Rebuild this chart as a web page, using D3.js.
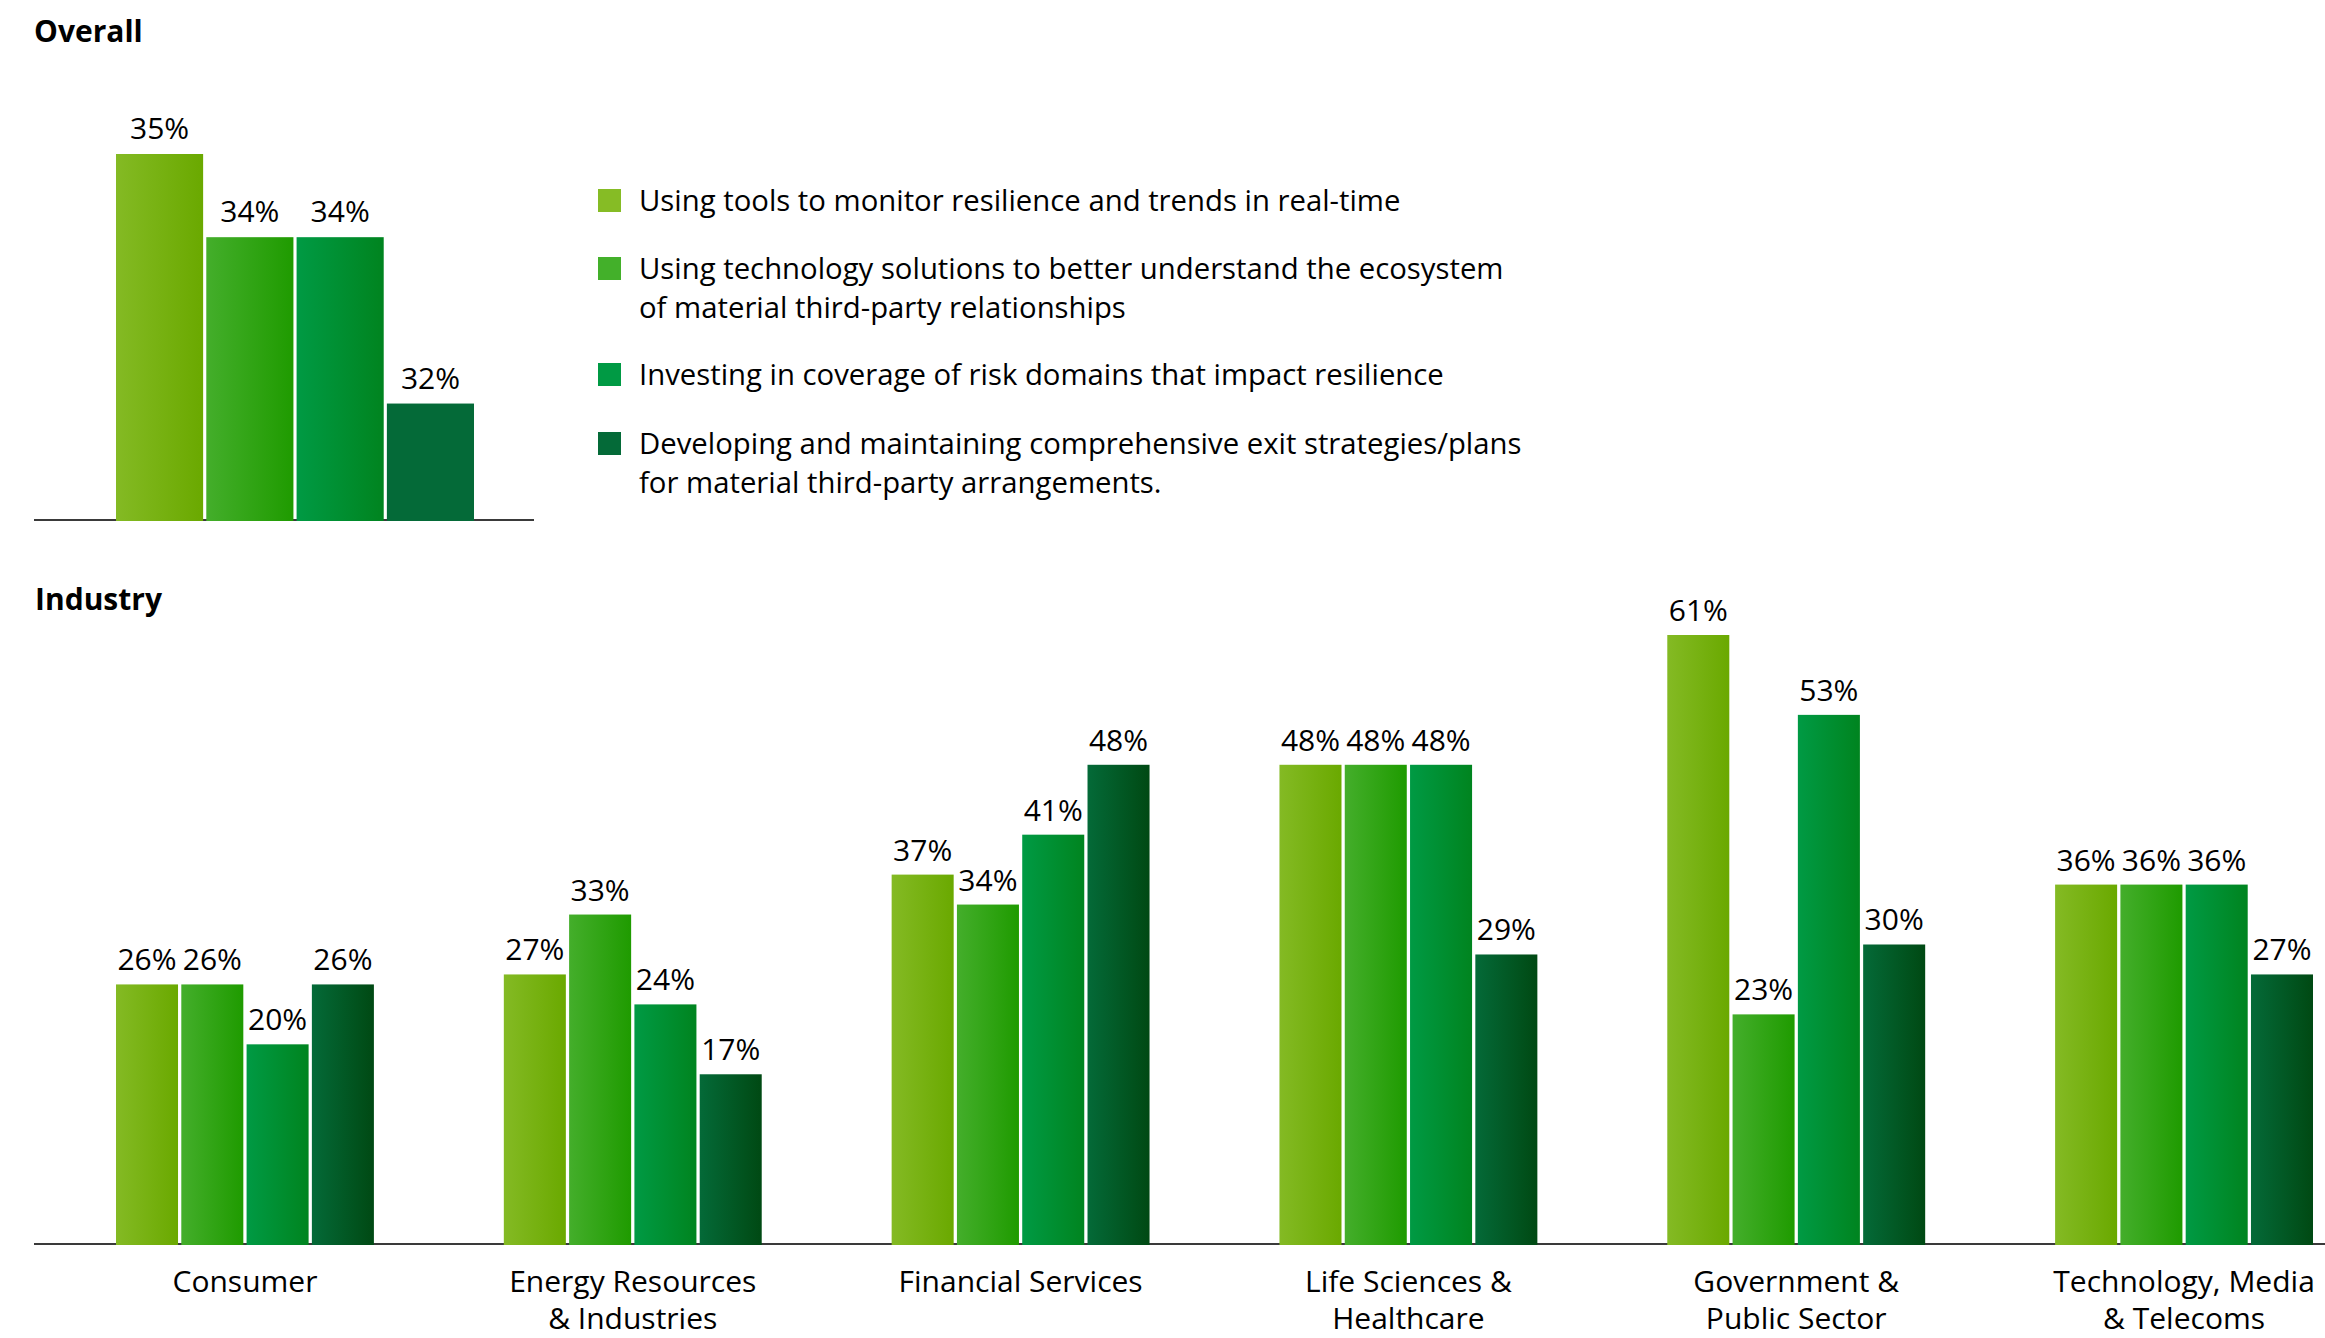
<!DOCTYPE html>
<html>
<head>
<meta charset="utf-8">
<script src="https://cdn.jsdelivr.net/npm/d3@7"></script>
<style>
  html, body { margin: 0; padding: 0; background: #fff; }
  svg { display: block; font-family: "Open Sans", "Noto Sans", sans-serif; }
</style>
</head>
<body>
<svg id="chart" width="2325" height="1338"></svg>
<script>
// ---------- DATA ----------
const seriesNames = [
  "Using tools to monitor resilience and trends in real-time",
  "Using technology solutions to better understand the ecosystem of material third-party relationships",
  "Investing in coverage of risk domains that impact resilience",
  "Developing and maintaining comprehensive exit strategies/plans for material third-party arrangements."
];
const legendLines = [
  ["Using tools to monitor resilience and trends in real-time"],
  ["Using technology solutions to better understand the ecosystem", "of material third-party relationships"],
  ["Investing in coverage of risk domains that impact resilience"],
  ["Developing and maintaining comprehensive exit strategies/plans", "for material third-party arrangements."]
];
const overallValues = [35, 34, 34, 32];

const industries = [
  "Consumer",
  "Energy Resources & Industries",
  "Financial Services",
  "Life Sciences & Healthcare",
  "Government & Public Sector",
  "Technology, Media & Telecoms"
];
const industryTickLines = [
  ["Consumer"],
  ["Energy Resources", "& Industries"],
  ["Financial Services"],
  ["Life Sciences &", "Healthcare"],
  ["Government &", "Public Sector"],
  ["Technology, Media", "& Telecoms"]
];
const monitorTools      = [26, 27, 37, 48, 61, 36];
const techSolutions     = [26, 33, 34, 48, 23, 36];
const riskDomains       = [20, 24, 41, 48, 53, 36];
const exitStrategies    = [26, 17, 48, 29, 30, 27];
const industrySeries = [monitorTools, techSolutions, riskDomains, exitStrategies];

// ---------- SETUP ----------
const svg = d3.select("#chart");
const gradStops = [
  ["#84BA24", "#6AA900"],
  ["#44AE2B", "#1F9B00"],
  ["#009A44", "#00841F"],
  ["#046A38", "#004913"]
];
const solidColors = ["#86BC25", "#43B02A", "#009A44", "#046A38"];

const defs = svg.append("defs");
gradStops.forEach((c, i) => {
  const g = defs.append("linearGradient").attr("id", "grad" + i)
    .attr("x1", "0").attr("x2", "1").attr("y1", "0").attr("y2", "0");
  g.append("stop").attr("offset", "0%").attr("stop-color", c[0]);
  g.append("stop").attr("offset", "100%").attr("stop-color", c[1]);
});
const overallFill = i => i === 3 ? solidColors[3] : "url(#grad" + i + ")";
const industryFill = i => "url(#grad" + i + ")";

const FS = 30;
const LFS = 29.3;

// ---------- OVERALL ----------
svg.append("text").attr("x", 34).attr("y", 42)
  .attr("font-size", FS).attr("font-weight", 700).attr("fill", "#000")
  .text("Overall");

const overallBase = 520;
const xo = d3.scaleBand().domain(d3.range(overallValues.length))
  .range([116, 474]).paddingInner(0.035).paddingOuter(0);
const yo = d3.scaleLinear().domain([30.6, 35]).range([overallBase, 154]);

svg.append("line").attr("x1", 34).attr("x2", 534)
  .attr("y1", overallBase).attr("y2", overallBase)
  .attr("stroke", "#3a3a3a").attr("stroke-width", 2);

const og = svg.append("g");
og.selectAll("rect").data(overallValues).join("rect")
  .attr("x", (d, i) => xo(i))
  .attr("y", d => yo(d))
  .attr("width", xo.bandwidth())
  .attr("height", d => overallBase + 1 - yo(d))
  .attr("fill", (d, i) => overallFill(i));
og.selectAll("text").data(overallValues).join("text")
  .attr("x", (d, i) => xo(i) + xo.bandwidth() / 2)
  .attr("y", d => yo(d) - 15)
  .attr("text-anchor", "middle").attr("font-size", FS).attr("fill", "#000")
  .text(d => d + "%");

// ---------- LEGEND ----------
const legendBaselines = [211, 279, 385, 454];
const lg = svg.append("g");
legendLines.forEach((lines, i) => {
  const y0 = legendBaselines[i];
  lg.append("rect").attr("x", 598).attr("y", y0 - 22)
    .attr("width", 23).attr("height", 23).attr("fill", solidColors[i]);
  const t = lg.append("text").attr("x", 639).attr("y", y0)
    .attr("font-size", LFS).attr("fill", "#000");
  lines.forEach((ln, j) => {
    t.append("tspan").attr("x", 639).attr("dy", j === 0 ? 0 : 39).text(ln);
  });
});

// ---------- INDUSTRY ----------
svg.append("text").attr("x", 35).attr("y", 610)
  .attr("font-size", FS).attr("font-weight", 700).attr("fill", "#000")
  .text("Industry");

const indBase = 1244;
const x0 = d3.scaleBand().domain(industries).range([116, 2313])
  .paddingInner(0.335).paddingOuter(0);
const x1 = d3.scaleBand().domain(d3.range(industrySeries.length))
  .range([0, x0.bandwidth()]).paddingInner(0.05);
const yi = d3.scaleLinear().domain([0, 61]).range([indBase, 635]);

svg.append("line").attr("x1", 34).attr("x2", 2325)
  .attr("y1", indBase).attr("y2", indBase)
  .attr("stroke", "#3a3a3a").attr("stroke-width", 2);

const groups = svg.append("g").selectAll("g").data(industries).join("g")
  .attr("transform", d => `translate(${x0(d)},0)`);

groups.each(function (ind, k) {
  const vals = industrySeries.map(s => s[k]);
  const g = d3.select(this);
  g.selectAll("rect").data(vals).join("rect")
    .attr("x", (d, i) => x1(i))
    .attr("y", d => yi(d))
    .attr("width", x1.bandwidth())
    .attr("height", d => indBase + 1 - yi(d))
    .attr("fill", (d, i) => industryFill(i));
  g.selectAll("text").data(vals).join("text")
    .attr("x", (d, i) => x1(i) + x1.bandwidth() / 2)
    .attr("y", d => yi(d) - 14)
    .attr("text-anchor", "middle").attr("font-size", FS).attr("fill", "#000")
    .text(d => d + "%");
});

// x axis labels
const axis = d3.axisBottom(x0).tickSize(0).tickPadding(0).tickFormat("");
const axG = svg.append("g").attr("transform", `translate(0,${indBase})`).call(axis);
axG.select(".domain").remove();
axG.selectAll(".tick text").remove();
axG.selectAll(".tick").each(function (d, i) {
  const t = d3.select(this).append("text")
    .attr("y", 48).attr("text-anchor", "middle")
    .attr("font-size", FS).attr("fill", "#000")
    .attr("font-family", "'Open Sans', 'Noto Sans', sans-serif");
  industryTickLines[i].forEach((ln, j) => {
    t.append("tspan").attr("x", 0).attr("dy", j === 0 ? 0 : 37).text(ln);
  });
});
</script>
</body>
</html>
